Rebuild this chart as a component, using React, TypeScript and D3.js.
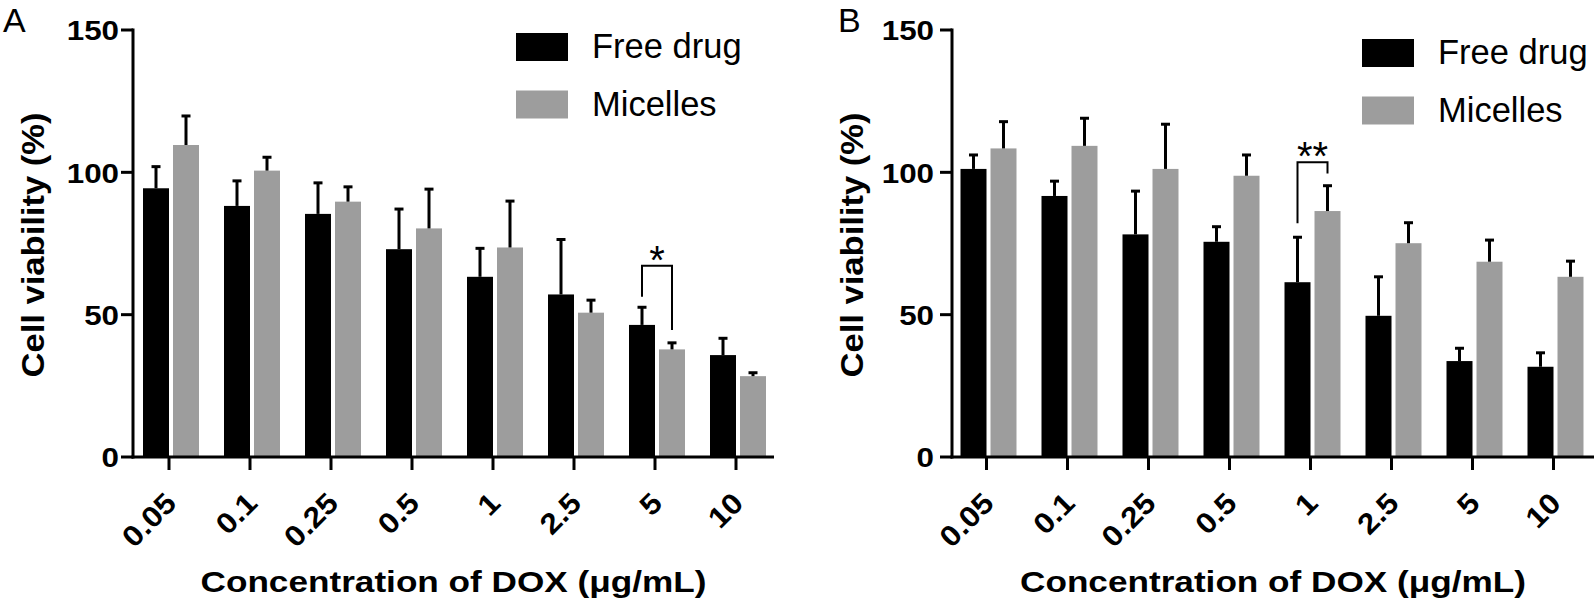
import React from "react";
import * as d3 from "d3";

const categories = ["0.05", "0.1", "0.25", "0.5", "1", "2.5", "5", "10"];
const freeA = [94.4, 88.2, 85.4, 73.0, 63.3, 57.1, 46.4, 35.8];
const freeAErr = [7.6, 8.8, 10.9, 14.1, 10.0, 19.3, 6.2, 5.9];
const micA = [109.6, 100.6, 89.7, 80.3, 73.6, 50.7, 37.8, 28.4];
const micAErr = [10.2, 4.7, 5.2, 13.8, 16.3, 4.4, 2.3, 1.2];
const freeB = [101.2, 91.7, 78.2, 75.6, 61.4, 49.6, 33.7, 31.7];
const freeBErr = [4.9, 5.2, 15.2, 5.3, 15.8, 13.7, 4.5, 4.9];
const micB = [108.4, 109.3, 101.2, 98.8, 86.4, 75.1, 68.6, 63.3];
const micBErr = [9.4, 9.7, 15.7, 7.3, 8.9, 7.2, 7.6, 5.5];
const yTicks = [0, 50, 100, 150];
const seriesNames = ["Free drug", "Micelles"];
const colors = ["#000000", "#9d9d9d"];

// significance: category, bracket top, left leg bottom, right leg bottom, label
const sigA = { cat: "5", top: 67.2, left: 56.3, right: 44.6, label: "*" };
const sigB = { cat: "1", top: 103.5, left: 82.1, right: 99.6, label: "**" };

const FONT = "'Liberation Sans', Arial, Helvetica, sans-serif";

type PanelProps = {
  letter: string;
  letterX: number;
  letterY: number;
  axisX: number;
  axisEnd: number;
  bandRange: [number, number];
  free: number[];
  freeErr: number[];
  mic: number[];
  micErr: number[];
  sig: { cat: string; top: number; left: number; right: number; label: string };
  legendX: number;
  legendY: number;
  tickLabelGap: number;
};

function Panel(p: PanelProps) {
  const y = d3.scaleLinear().domain([0, 150]).range([457, 30]);
  const x = d3.scaleBand<string>().domain(categories).range(p.bandRange);
  const bw = 26;
  const center = (c: string) => (x(c) as number) + x.bandwidth() / 2;
  const series = [
    { vals: p.free, errs: p.freeErr, off: -27 },
    { vals: p.mic, errs: p.micErr, off: 3 },
  ];
  const sc = center(p.sig.cat);
  const sx1 = sc - 27 + bw / 2;
  const sx2 = sc + 3 + bw / 2;
  const titleCx = (p.axisX + p.axisEnd) / 2;
  return (
    <g>
      <text x={p.letterX} y={p.letterY} fontFamily={FONT} fontSize={34}>
        {p.letter}
      </text>
      {series.map((s, si) =>
        categories.map((c, i) => {
          const cx = center(c) + s.off;
          const top = y(s.vals[i]);
          const et = y(s.vals[i] + s.errs[i]);
          return (
            <g key={si + "-" + c}>
              <rect x={cx} y={top} width={bw} height={y(0) - top} fill={colors[si]} />
              <line x1={cx + bw / 2} x2={cx + bw / 2} y1={top} y2={et} stroke="#000" strokeWidth={3} />
              <line x1={cx + bw / 2 - 4.5} x2={cx + bw / 2 + 4.5} y1={et} y2={et} stroke="#000" strokeWidth={3} />
            </g>
          );
        })
      )}
      <line x1={p.axisX} x2={p.axisX} y1={y(150) - 1.5} y2={y(0) + 1.5} stroke="#000" strokeWidth={3} />
      <line x1={p.axisX - 1.5} x2={p.axisEnd} y1={y(0)} y2={y(0)} stroke="#000" strokeWidth={3} />
      {yTicks.map((t) => (
        <g key={t}>
          <line x1={p.axisX - 12} x2={p.axisX} y1={y(t)} y2={y(t)} stroke="#000" strokeWidth={3} />
          <text
            transform={`translate(${p.axisX - p.tickLabelGap},${y(t)}) scale(1.1,1)`}
            dy="0.36em"
            textAnchor="end"
            fontFamily={FONT}
            fontWeight="bold"
            fontSize={28.5}
          >
            {t}
          </text>
        </g>
      ))}
      {categories.map((c) => (
        <g key={c}>
          <line x1={center(c) - 1} x2={center(c) - 1} y1={y(0)} y2={y(0) + 13} stroke="#000" strokeWidth={3} />
          <text
            transform={`translate(${center(c) + 8},${505}) rotate(-45) scale(1.1,1)`}
            textAnchor="end"
            fontFamily={FONT}
            fontWeight="bold"
            fontSize={29}
          >
            {c}
          </text>
        </g>
      ))}
      <text
        x={titleCx}
        y={592}
        textAnchor="middle"
        fontFamily={FONT}
        fontWeight="bold"
        fontSize={30}
        textLength={506}
        lengthAdjust="spacingAndGlyphs"
      >
        Concentration of DOX (μg/mL)
      </text>
      <text
        transform={`translate(${p.axisX - 89.5},245) rotate(-90)`}
        textAnchor="middle"
        fontFamily={FONT}
        fontWeight="bold"
        fontSize={32}
        textLength={265}
        lengthAdjust="spacingAndGlyphs"
      >
        Cell viability (%)
      </text>
      <path
        d={`M${sx1},${y(p.sig.left)} V${y(p.sig.top)} H${sx2} V${y(p.sig.right)}`}
        fill="none"
        stroke="#000"
        strokeWidth={2}
      />
      <text
        x={(sx1 + sx2) / 2}
        y={y(p.sig.top) + 8}
        textAnchor="middle"
        fontFamily={FONT}
        fontSize={40}
      >
        {p.sig.label}
      </text>
      {seriesNames.map((n, i) => (
        <g key={n}>
          <rect x={p.legendX} y={p.legendY + i * 57.5} width={52} height={28} fill={colors[i]} />
          <text x={p.legendX + 76} y={p.legendY + 25 + i * 57.5} fontFamily={FONT} fontSize={34.5}>
            {n}
          </text>
        </g>
      ))}
    </g>
  );
}

export default function App() {
  return (
    <svg
      width={1594}
      height={603}
      style={{ position: "absolute", left: 0, top: 0, background: "#fff" }}
    >
      <rect width={1594} height={603} fill="#fff" />
      <Panel
        letter="A"
        letterX={3}
        letterY={32}
        axisX={133}
        axisEnd={774}
        bandRange={[129.5, 777.5]}
        free={freeA}
        freeErr={freeAErr}
        mic={micA}
        micErr={micAErr}
        sig={sigA}
        legendX={516}
        legendY={33}
        tickLabelGap={14}
      />
      <Panel
        letter="B"
        letterX={838}
        letterY={32}
        axisX={952}
        axisEnd={1594}
        bandRange={[947, 1595]}
        free={freeB}
        freeErr={freeBErr}
        mic={micB}
        micErr={micBErr}
        sig={sigB}
        legendX={1362}
        legendY={39}
        tickLabelGap={18}
      />
    </svg>
  );
}
